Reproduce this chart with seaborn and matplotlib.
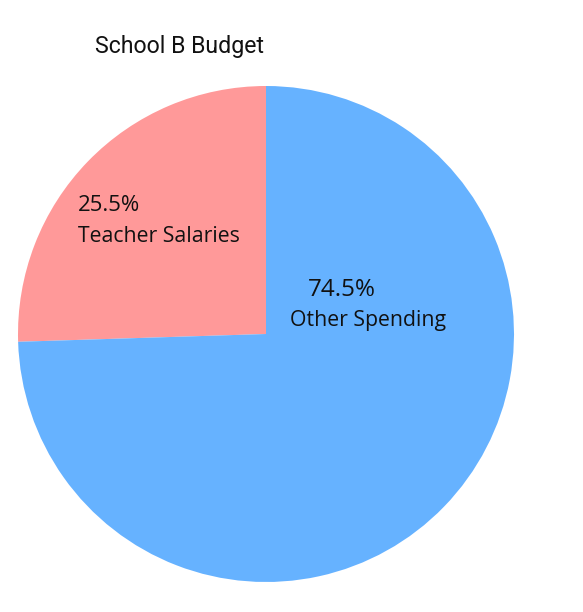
import matplotlib
matplotlib.use("Agg")
import matplotlib.pyplot as plt
import seaborn as sns

# budget split for school B
labels = ["Teacher Salaries", "Other Spending"]
shares = [25.5, 74.5]
colors = ["#FF9999", "#66B2FF"]

sns.set_theme(style="white")
plt.rcParams["font.family"] = ["Open Sans", "DejaVu Sans"]

fig = plt.figure(figsize=(5.83, 6.12), dpi=100)
ax = fig.add_axes([18 / 583, 30 / 612, 496 / 583, 496 / 612])

ax.pie(shares, colors=colors, startangle=90, counterclock=True,
       wedgeprops={"linewidth": 0})
ax.set_xlim(-1, 1)
ax.set_ylim(-1, 1)
ax.set_aspect("equal")
ax.axis("off")

# label positions inside each slice (x, pct y, name y, pct size)
label_pos = [(-0.76, 0.52, 0.395, 16), (0.17, 0.177, 0.056, 17.5)]
for (x, y1, y2, fs), name, val in zip(label_pos, labels, shares):
    ax.text(x, y1, f"{val}%", fontsize=fs, color="#111111", va="center", ha="left")
    ax.text(x if val < 50 else x - 0.075, y2, name, fontsize=15.3, color="#111111",
            va="center", ha="left")

fig.text(95 / 583, 1 - 46 / 612, "School B Budget", fontsize=16.7,
         family=["Roboto", "DejaVu Sans"], color="#111111", va="center", ha="left")

fig.savefig("out.png", dpi=100)
